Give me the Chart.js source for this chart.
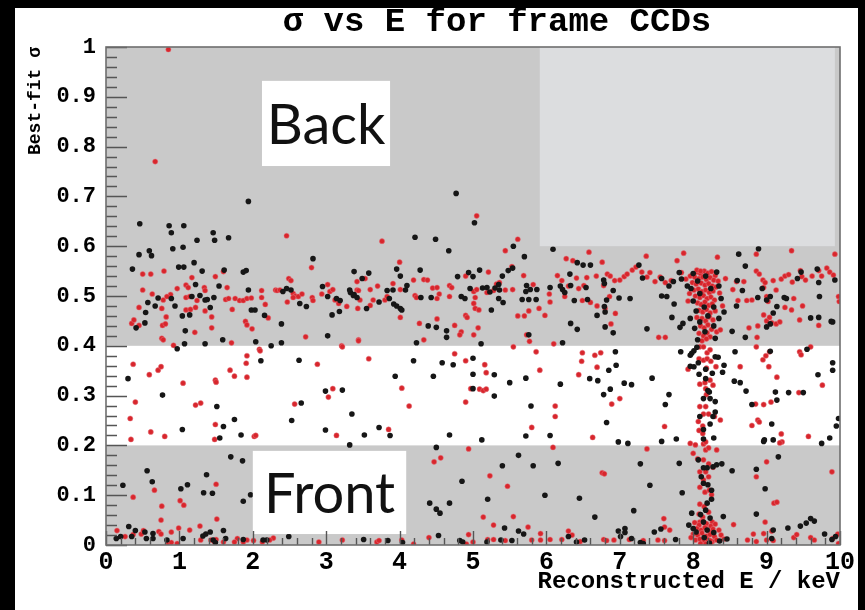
<!DOCTYPE html>
<html>
<head>
<meta charset="utf-8">
<script src="https://cdn.jsdelivr.net/npm/chart.js@4.4.1/dist/chart.umd.min.js"></script>
<style>
  html, body { margin: 0; padding: 0; background: #000; overflow: hidden; }
  #wrap { position: relative; width: 865px; height: 610px; }
</style>
</head>
<body>
<div id="wrap"><canvas id="c" width="865" height="610"></canvas></div>
<script>
// Texts
const chartTitle = 'σ vs E for frame CCDs';
const xTitle = 'Reconstructed E / keV';
const yTitle = 'Best-fit σ';
const xTickLabels = ['0','1','2','3','4','5','6','7','8','9','10'];
const yTickLabels = ['0','0.1','0.2','0.3','0.4','0.5','0.6','0.7','0.8','0.9','1'];

// Events: [reconstructed energy (keV), best-fit sigma]
// Black events, upper band (sigma >= 0.4)
const darkUpperLow = [
  [0.46,0.645],[0.86,0.641],[1.06,0.641],[0.89,0.627],[1.46,0.627],[1.48,0.612],[1.24,0.612],[1.67,0.617],
  [0.91,0.595],[1.05,0.598],[0.45,0.583],[0.59,0.591],[0.62,0.581],[1.20,0.567],[0.36,0.554],[0.99,0.558],
  [1.06,0.558],[1.31,0.550],[1.61,0.552],[1.87,0.548],[1.91,0.551],[1.94,0.690],[2.82,0.575],[3.38,0.549],
  [1.54,0.520],[1.22,0.523],[0.71,0.496],[0.57,0.487],[0.67,0.480],[0.54,0.467],[0.53,0.446],[0.41,0.436],
  [0.89,0.495],[0.94,0.480],[1.04,0.460],[1.14,0.462],[1.17,0.499],[1.28,0.501],[1.35,0.492],[1.38,0.493],
  [1.42,0.477],[1.47,0.497],[1.08,0.430],[1.07,0.404],[1.35,0.404],[1.59,0.412],[1.98,0.472],[1.94,0.512],
  [2.03,0.472],[2.16,0.461],[2.39,0.444],[2.04,0.408],[2.25,0.400],[2.39,0.406],[2.41,0.509],[2.46,0.515],
  [2.52,0.512],[2.64,0.485],[2.73,0.479],[2.95,0.519],[3.02,0.499],[3.14,0.495],[3.19,0.491],[3.08,0.462],
  [3.18,0.469],[3.33,0.507],[3.38,0.503],[3.42,0.497],[3.02,0.420]
];
const darkUpperMid = [
  [5.02,0.647],[4.21,0.618],[4.49,0.614],[4.67,0.591],[5.55,0.600],[5.70,0.579],[6.09,0.594],[6.42,0.567],
  [6.50,0.562],[6.60,0.562],[3.96,0.554],[4.28,0.552],[4.01,0.540],[3.49,0.535],[3.58,0.546],[3.32,0.512],
  [3.37,0.501],[3.55,0.475],[3.72,0.488],[3.83,0.511],[3.86,0.495],[3.91,0.512],[3.92,0.484],[3.96,0.480],
  [4.01,0.475],[4.03,0.472],[4.08,0.512],[4.10,0.521],[4.29,0.497],[4.43,0.497],[4.79,0.539],[4.84,0.499],
  [4.89,0.495],[4.94,0.547],[5.00,0.539],[5.09,0.552],[4.96,0.515],[4.39,0.440],[4.50,0.437],[4.64,0.430],
  [4.64,0.417],[4.23,0.406],[5.11,0.404],[5.13,0.516],[5.19,0.517],[5.23,0.508],[5.30,0.516],[5.35,0.523],
  [5.36,0.512],[5.25,0.472],[5.35,0.495],[5.41,0.487],[5.40,0.540],[5.48,0.551],[5.54,0.556],[5.72,0.509],
  [5.73,0.521],[5.78,0.513],[5.76,0.493],[5.67,0.493],[5.87,0.513],[5.86,0.493],[6.05,0.517],[6.19,0.520],
  [6.22,0.513],[6.25,0.507],[6.32,0.544],[6.33,0.521],[6.38,0.491],[6.56,0.493],[6.54,0.517],[6.69,0.461],
  [6.80,0.468],[6.82,0.492],[6.80,0.438],[6.42,0.433],[6.33,0.445],[6.78,0.532],[6.79,0.525],[5.76,0.422],
  [6.22,0.406],[4.77,0.706]
];
const darkUpperHigh = [
  [8.89,0.595],[8.62,0.584],[8.71,0.560],[6.91,0.511],[6.99,0.496],[7.14,0.495],[7.26,0.562],[7.31,0.536],
  [7.57,0.535],[7.67,0.520],[7.73,0.529],[7.81,0.547],[7.84,0.534],[7.57,0.500],[6.79,0.479],[6.91,0.426],
  [7.37,0.434],[7.71,0.457],[7.82,0.437],[7.86,0.445],[7.74,0.484],[7.64,0.499],[8.60,0.531],[8.67,0.511],
  [8.88,0.497],[8.94,0.515],[9.00,0.492],[9.05,0.499],[9.09,0.466],[9.14,0.479],[9.00,0.438],[9.05,0.444],
  [9.24,0.497],[9.27,0.495],[9.42,0.535],[9.47,0.548],[9.60,0.456],[9.69,0.554],[9.71,0.527],[9.93,0.532],
  [9.90,0.448],[9.72,0.499],[8.71,0.417],[8.53,0.429],[8.42,0.468],[8.59,0.480],[9.71,0.457],[9.88,0.449],
  [8.00,0.545],[8.06,0.530],[8.17,0.540],[8.32,0.548],[7.97,0.515],[8.09,0.505],[8.24,0.515],[8.35,0.520],
  [8.00,0.490],[8.15,0.478],[8.28,0.478],[8.04,0.470],[8.20,0.460],[8.35,0.455],[8.09,0.448],[8.28,0.440],
  [8.02,0.435],[8.16,0.428],[8.30,0.415],[8.06,0.412],[7.96,0.455],[8.38,0.495],[7.92,0.520]
];
// Black events, middle band (0.2 - 0.4)
const darkMiddle = [
  [0.97,0.394],[0.30,0.334],[0.77,0.301],[1.04,0.232],[1.51,0.278],[1.60,0.238],[1.55,0.215],[1.75,0.252],
  [1.84,0.221],[2.11,0.370],[2.63,0.371],[2.53,0.250],[2.66,0.285],[2.99,0.309],[3.22,0.311],[2.99,0.231],
  [3.35,0.263],[3.32,0.201],[4.19,0.370],[4.58,0.366],[4.73,0.362],[5.00,0.375],[5.29,0.342],[5.00,0.343],
  [3.94,0.339],[4.46,0.339],[5.00,0.314],[5.29,0.299],[5.50,0.326],[5.72,0.335],[6.19,0.323],[5.79,0.279],
  [3.72,0.236],[3.52,0.221],[3.87,0.220],[4.68,0.221],[5.12,0.211],[5.72,0.219],[6.05,0.220],[6.59,0.334],
  [6.70,0.330],[6.78,0.302],[6.85,0.351],[6.82,0.246],[6.94,0.388],[6.95,0.361],[7.06,0.325],[7.16,0.322],
  [6.87,0.313],[7.44,0.335],[7.67,0.302],[7.62,0.282],[6.98,0.207],[7.11,0.204],[7.57,0.208],[7.77,0.213],
  [7.83,0.388],[8.57,0.388],[8.56,0.329],[8.64,0.326],[8.72,0.309],[9.05,0.389],[9.12,0.307],[9.30,0.306],
  [9.50,0.306],[8.80,0.282],[9.14,0.291],[9.07,0.243],[8.97,0.211],[9.09,0.211],[9.75,0.204],[9.86,0.215],
  [9.95,0.239],[9.98,0.254],[9.55,0.393],[9.70,0.342],[9.90,0.351],[9.90,0.366],[8.96,0.208],
  [7.96,0.381],[7.98,0.385],[8.01,0.390],[8.05,0.397],[7.96,0.359],[8.01,0.358],[8.07,0.366],[8.08,0.343],
  [8.17,0.353],[8.26,0.345],[8.30,0.378],[8.34,0.377],[8.42,0.361],[8.40,0.347],[8.17,0.334],[8.20,0.310],
  [8.22,0.307],[8.23,0.294],[8.14,0.294],[8.30,0.288],[8.30,0.267],[8.27,0.258],[8.09,0.258],[8.14,0.232],
  [8.23,0.243],[8.14,0.213],[8.28,0.215]
];
// Black events, lower band (sigma < 0.2)
const darkLower = [
  [0.23,0.120],[0.56,0.149],[0.63,0.127],[1.02,0.113],[1.11,0.121],[1.33,0.105],[1.45,0.104],[1.37,0.141],
  [1.70,0.177],[1.86,0.169],[1.87,0.088],[1.97,0.101],[4.50,0.196],[4.41,0.084],[4.50,0.072],[4.55,0.064],
  [4.68,0.084],[4.85,0.128],[0.14,0.013],[0.20,0.017],[0.31,0.037],[0.35,0.017],[0.40,0.029],[0.53,0.026],
  [0.55,0.013],[0.64,0.023],[0.64,0.013],[0.83,0.010],[1.05,0.013],[1.32,0.018],[1.36,0.022],[1.42,0.026],
  [1.46,0.010],[1.49,0.005],[1.63,0.013],[1.87,0.011],[2.14,0.010],[2.19,0.010],[2.49,0.017],[3.51,0.011],
  [3.84,0.009],[4.04,0.005],[4.53,0.019],[4.82,0.009],[4.86,0.006],[1.60,0.029],[5.62,0.180],[5.40,0.159],
  [5.82,0.159],[6.16,0.164],[7.28,0.163],[7.81,0.164],[7.41,0.120],[7.85,0.105],[5.20,0.092],[5.98,0.100],
  [6.45,0.094],[6.66,0.056],[7.19,0.069],[5.43,0.034],[5.62,0.028],[5.69,0.022],[6.98,0.028],[7.07,0.033],
  [7.07,0.025],[7.47,0.026],[7.56,0.032],[5.19,0.006],[5.38,0.010],[5.53,0.009],[6.41,0.006],[6.52,0.010],
  [7.01,0.017],[7.16,0.013],[7.28,0.005],[7.32,0.003],[7.76,0.011],[6.30,0.017],[8.07,0.171],[8.14,0.155],
  [8.19,0.155],[8.27,0.157],[8.32,0.161],[8.39,0.163],[8.53,0.149],[8.11,0.137],[8.14,0.124],[8.20,0.121],
  [8.25,0.110],[8.25,0.092],[8.17,0.070],[8.19,0.084],[8.10,0.061],[8.23,0.054],[7.98,0.064],[8.14,0.046],
  [8.41,0.057],[8.19,0.030],[8.00,0.033],[8.86,0.152],[9.16,0.177],[8.98,0.113],[8.86,0.062],[9.07,0.013],
  [9.09,0.030],[9.29,0.034],[9.46,0.038],[9.54,0.044],[9.60,0.053],[9.65,0.048],[9.79,0.022],[9.89,0.011],
  [9.94,0.017],[8.04,0.026],[8.15,0.015],[8.28,0.025],[8.22,0.004],[8.36,0.008],[8.46,0.012],[7.94,0.040]
];

// Red events, upper band
const redUpperLow = [
  [0.85,0.995],[0.67,0.770],[2.46,0.621],[0.50,0.544],[0.61,0.544],[0.79,0.550],[0.50,0.512],[0.63,0.504],
  [0.88,0.503],[0.97,0.515],[1.09,0.522],[1.12,0.517],[1.17,0.537],[1.34,0.517],[1.35,0.511],[1.49,0.539],
  [1.60,0.549],[1.65,0.517],[0.35,0.445],[0.38,0.452],[0.45,0.441],[0.45,0.477],[0.78,0.492],[0.83,0.499],
  [0.76,0.475],[0.82,0.458],[0.77,0.441],[0.81,0.444],[1.09,0.472],[1.15,0.473],[1.22,0.477],[1.09,0.497],
  [1.14,0.499],[1.24,0.491],[1.35,0.470],[1.44,0.458],[1.44,0.436],[1.21,0.427],[0.76,0.415],[0.78,0.412],
  [0.92,0.401],[1.63,0.493],[1.67,0.495],[1.72,0.473],[1.71,0.406],[1.76,0.495],[1.82,0.491],[1.87,0.491],
  [1.92,0.495],[1.98,0.496],[2.12,0.511],[2.12,0.497],[1.90,0.449],[1.92,0.442],[1.99,0.434],[2.17,0.483],
  [2.21,0.456],[2.31,0.512],[2.33,0.511],[2.37,0.512],[2.49,0.535],[2.52,0.531],[2.55,0.505],[2.58,0.500],
  [2.62,0.499],[2.55,0.497],[2.67,0.504],[2.47,0.488],[2.81,0.497],[2.82,0.491],[2.80,0.557],[2.94,0.504],
  [3.02,0.523],[3.05,0.509],[3.09,0.513],[3.12,0.492],[3.17,0.485],[3.28,0.479],[3.42,0.529],[3.42,0.512],
  [3.43,0.475],[2.72,0.418],[3.21,0.400],[3.44,0.412]
];
const redUpperMid = [
  [5.05,0.661],[3.76,0.610],[5.61,0.614],[5.44,0.591],[6.58,0.588],[6.27,0.575],[6.36,0.571],[6.76,0.568],
  [4.00,0.568],[3.53,0.535],[3.44,0.511],[3.46,0.492],[3.60,0.513],[3.64,0.492],[3.70,0.520],[3.60,0.481],
  [3.80,0.492],[3.83,0.499],[3.91,0.525],[4.01,0.513],[4.01,0.457],[4.19,0.532],[4.21,0.501],[4.23,0.497],
  [4.33,0.533],[4.38,0.532],[4.45,0.516],[4.51,0.517],[4.54,0.504],[4.51,0.495],[4.68,0.521],[4.71,0.517],
  [4.68,0.499],[4.90,0.540],[5.01,0.509],[5.05,0.513],[5.03,0.497],[5.01,0.485],[5.03,0.475],[5.08,0.472],
  [4.90,0.461],[4.92,0.457],[4.51,0.454],[4.27,0.445],[4.75,0.441],[4.84,0.428],[4.82,0.422],[5.07,0.436],
  [5.01,0.422],[4.33,0.412],[3.44,0.410],[5.21,0.548],[5.32,0.524],[5.36,0.527],[5.19,0.507],[5.28,0.511],
  [5.53,0.559],[5.44,0.512],[5.54,0.513],[5.69,0.541],[5.76,0.470],[5.70,0.460],[5.61,0.460],[5.82,0.523],
  [5.90,0.475],[5.98,0.461],[6.04,0.504],[6.15,0.541],[6.05,0.488],[6.21,0.531],[6.30,0.520],[6.25,0.499],
  [6.44,0.515],[6.41,0.536],[6.51,0.521],[6.49,0.491],[6.60,0.487],[6.69,0.480],[6.55,0.537],[6.68,0.540],
  [6.78,0.521],[6.83,0.544],[5.77,0.409],[6.10,0.404],[5.73,0.422]
];
const redUpperHigh = [
  [9.34,0.591],[7.36,0.580],[7.78,0.571],[7.87,0.586],[8.33,0.578],[8.86,0.584],[9.93,0.584],[6.87,0.540],
  [6.93,0.531],[7.00,0.532],[7.06,0.539],[7.10,0.544],[7.17,0.552],[7.22,0.558],[7.30,0.548],[7.37,0.538],
  [7.41,0.547],[7.48,0.529],[7.55,0.538],[7.62,0.527],[7.70,0.531],[7.84,0.547],[7.90,0.534],[7.96,0.540],
  [6.86,0.499],[6.94,0.465],[6.80,0.475],[6.88,0.444],[7.53,0.417],[7.62,0.417],[8.44,0.535],[8.54,0.513],
  [8.59,0.529],[8.69,0.529],[8.61,0.491],[8.73,0.491],[8.80,0.492],[8.86,0.550],[8.90,0.544],[8.95,0.532],
  [8.96,0.517],[8.98,0.527],[9.00,0.499],[9.02,0.489],[9.09,0.531],[9.13,0.512],[9.20,0.534],[9.25,0.540],
  [9.30,0.543],[9.35,0.528],[9.37,0.495],[9.46,0.551],[9.48,0.539],[9.53,0.532],[9.62,0.540],[9.71,0.551],
  [9.75,0.540],[9.82,0.556],[9.86,0.548],[9.91,0.542],[9.98,0.499],[9.99,0.489],[8.76,0.436],[8.88,0.440],
  [8.96,0.462],[9.00,0.450],[9.04,0.457],[9.07,0.446],[9.13,0.444],[9.18,0.448],[9.25,0.477],[9.34,0.472],
  [9.45,0.452],[9.49,0.480],[9.71,0.441],[8.87,0.417]
];
// Red events in the 8.2 keV peak, upper band
const redPeakUpper = [
  [8.05,0.548],[8.10,0.545],[8.15,0.550],[8.20,0.546],[8.25,0.549],[8.30,0.541],[8.02,0.538],[8.08,0.535],
  [8.13,0.538],[8.18,0.533],[8.23,0.537],[8.28,0.532],[8.34,0.530],[7.99,0.527],[8.04,0.524],[8.11,0.526],
  [8.16,0.522],[8.21,0.525],[8.26,0.520],[8.31,0.518],[8.01,0.512],[8.07,0.514],[8.12,0.509],[8.17,0.512],
  [8.22,0.507],[8.27,0.510],[8.36,0.506],[8.03,0.500],[8.09,0.497],[8.14,0.501],[8.19,0.495],[8.24,0.498],
  [8.29,0.492],[8.06,0.486],[8.11,0.483],[8.16,0.488],[8.21,0.481],[8.26,0.484],[8.08,0.471],[8.13,0.468],
  [8.18,0.473],[8.23,0.466],[8.30,0.470],[8.05,0.457],[8.12,0.455],[8.17,0.450],[8.22,0.458],[8.27,0.452],
  [8.10,0.440],[8.15,0.436],[8.20,0.442],[8.25,0.433],[8.08,0.425],[8.14,0.420],[8.19,0.426],[8.23,0.418],
  [8.32,0.428],[8.12,0.410],[8.18,0.414],[8.37,0.432],[7.95,0.505],[7.93,0.490],[8.40,0.480],[8.05,0.552],
  [8.10,0.550]
];
// Red events, middle band
const redMiddle = [
  [2.09,0.393],[5.55,0.398],[0.37,0.363],[0.59,0.342],[0.71,0.351],[0.75,0.358],[1.05,0.325],[0.40,0.287],
  [0.33,0.254],[0.34,0.212],[0.61,0.227],[0.80,0.218],[1.22,0.281],[1.29,0.285],[1.49,0.331],[1.50,0.327],
  [1.49,0.242],[1.48,0.212],[1.69,0.351],[1.75,0.339],[1.92,0.380],[1.91,0.365],[1.92,0.337],[2.02,0.218],
  [2.04,0.220],[2.10,0.390],[2.88,0.363],[2.57,0.283],[3.09,0.314],[3.03,0.297],[3.14,0.220],[3.22,0.398],
  [3.58,0.374],[4.90,0.370],[4.75,0.384],[5.16,0.362],[5.18,0.346],[4.03,0.315],[4.97,0.314],[5.09,0.313],
  [5.14,0.310],[5.18,0.313],[5.86,0.388],[5.91,0.351],[4.90,0.287],[4.13,0.279],[3.85,0.232],[6.12,0.279],
  [6.12,0.258],[5.80,0.236],[6.63,0.216],[6.49,0.386],[6.48,0.369],[6.66,0.381],[6.74,0.386],[6.69,0.357],
  [6.44,0.342],[6.89,0.283],[7.00,0.294],[7.61,0.238],[8.64,0.358],[8.86,0.398],[8.95,0.372],[8.99,0.380],
  [9.04,0.388],[9.03,0.358],[9.14,0.337],[9.44,0.306],[8.85,0.283],[8.96,0.282],[9.06,0.287],[8.80,0.240],
  [8.88,0.251],[8.90,0.247],[9.20,0.223],[9.21,0.207],[9.57,0.218],[9.45,0.388],[9.47,0.382],[9.60,0.398],
  [9.76,0.321],[9.18,0.205],[7.96,0.204],[8.03,0.201],[8.14,0.203],
  [8.09,0.398],[8.14,0.398],[8.19,0.386],[8.23,0.392],[8.08,0.374],[8.14,0.371],[8.19,0.374],[8.24,0.369],
  [8.31,0.358],[7.93,0.353],[8.18,0.355],[8.09,0.323],[8.16,0.326],[8.23,0.331],[8.27,0.321],[8.17,0.314],
  [8.18,0.302],[8.09,0.278],[8.17,0.278],[8.14,0.263],[8.21,0.263],[8.29,0.258],[8.37,0.251],[8.07,0.248],
  [8.13,0.239],[8.08,0.230],[8.13,0.224],[8.17,0.207]
];
// Red events, lower band
const redLower = [
  [4.94,0.193],[6.09,0.196],[7.37,0.193],[0.37,0.096],[0.66,0.110],[0.76,0.078],[0.75,0.050],[1.01,0.089],
  [1.06,0.080],[1.50,0.122],[1.51,0.052],[1.28,0.038],[4.47,0.167],[4.56,0.175],[0.15,0.029],[0.26,0.017],
  [0.37,0.021],[0.48,0.022],[0.51,0.029],[0.72,0.027],[0.75,0.022],[0.89,0.026],[0.99,0.034],[1.14,0.030],
  [1.50,0.011],[1.79,0.013],[1.92,0.010],[2.28,0.014],[2.90,0.006],[3.22,0.010],[3.69,0.006],[4.03,0.010],
  [4.19,0.002],[4.40,0.015],[4.94,0.021],[5.00,0.006],[0.85,0.002],[0.89,0.005],[0.97,0.003],[1.29,0.010],
  [1.43,0.010],[1.48,0.006],[1.60,0.006],[1.75,0.006],[1.87,0.006],[2.01,0.009],[2.13,0.006],[2.23,0.010],
  [3.72,0.009],[4.91,0.002],[5.23,0.139],[5.47,0.118],[6.76,0.145],[6.79,0.143],[5.14,0.056],[5.55,0.057],
  [5.28,0.040],[5.75,0.036],[5.92,0.023],[6.30,0.028],[6.35,0.020],[7.60,0.053],[7.61,0.036],[7.68,0.030],
  [6.05,0.011],[6.21,0.011],[6.46,0.007],[6.78,0.011],[6.82,0.009],[6.92,0.010],[7.13,0.011],[7.32,0.009],
  [7.52,0.010],[7.61,0.009],[5.20,0.011],[5.28,0.011],[5.44,0.009],[5.80,0.010],[5.92,0.010],
  [9.00,0.167],[8.86,0.137],[9.10,0.084],[9.14,0.086],[9.89,0.147],[8.55,0.041],[8.82,0.022],[8.96,0.023],
  [8.98,0.046],[9.07,0.028],[9.00,0.010],[9.09,0.009],[9.37,0.015],[9.41,0.021],[9.60,0.015],[9.65,0.010],
  [9.90,0.013],[9.97,0.022],[9.98,0.003],[8.74,0.010],[8.86,0.007]
];
// Red events in the 8.2 keV peak, lower band
const redPeakLower = [
  [8.17,0.191],[8.21,0.195],[8.32,0.191],[8.00,0.184],[8.06,0.173],[8.14,0.171],[8.21,0.163],[8.27,0.156],
  [8.09,0.147],[8.17,0.147],[8.21,0.137],[8.14,0.131],[8.09,0.116],[8.16,0.106],[8.22,0.110],[8.25,0.101],
  [8.09,0.082],[8.15,0.077],[8.08,0.062],[8.13,0.056],[8.21,0.066],[8.26,0.046],[8.09,0.046],[8.17,0.040],
  [8.02,0.045],[8.08,0.040],[8.13,0.048],[8.18,0.043],[8.24,0.038],[8.30,0.042],[8.05,0.033],[8.11,0.030],
  [8.16,0.035],[8.21,0.028],[8.27,0.032],[8.35,0.030],[8.00,0.022],[8.06,0.020],[8.12,0.024],[8.18,0.018],
  [8.23,0.021],[8.29,0.017],[8.38,0.020],[8.03,0.010],[8.09,0.012],[8.15,0.008],[8.20,0.011],[8.26,0.007],
  [8.32,0.010],[8.42,0.012],[8.10,0.003],[8.17,0.002],[8.24,0.004],[7.97,0.015],[8.23,0.009]
];

const darkEvents = [...darkUpperLow, ...darkUpperMid, ...darkUpperHigh, ...darkMiddle, ...darkLower];
const redEvents = [...redUpperLow, ...redUpperMid, ...redUpperHigh, ...redPeakUpper, ...redMiddle, ...redLower, ...redPeakLower];
const toXY = (arr) => arr.map(([e, s]) => ({ x: e, y: s }));

// Shaded sigma bands and annotation boxes (data coordinates)
const bands = [
  { from: 0.0, to: 0.2, color: '#c9c9c9' },
  { from: 0.4, to: 1.0, color: '#c9c9c9' }
];
const blankRegion = { e0: 5.91, e1: 9.93, s0: 0.600, s1: 1.0, color: '#dcdddf' };
const labelBoxes = [
  { text: 'Back',  e0: 2.125, e1: 3.87, s0: 0.761, s1: 0.932 },
  { text: 'Front', e0: 2.00,  e1: 4.09, s0: 0.022, s1: 0.189 }
];

const MONO = '"Liberation Mono", "DejaVu Sans Mono", monospace';

const decor = {
  id: 'decor',
  beforeDraw(chart) {
    const ctx = chart.ctx;
    const { left, right, top, bottom } = chart.chartArea;
    const ys = chart.scales.y;
    ctx.save();
    ctx.fillStyle = '#000';
    ctx.fillRect(0, 0, chart.width, chart.height);
    ctx.fillStyle = '#fff';
    ctx.fillRect(15, 8, 843, 602);
    ctx.fillStyle = '#fff';
    ctx.fillRect(left, top, right - left, bottom - top);
    bands.forEach(b => {
      const y0 = ys.getPixelForValue(b.to), y1 = ys.getPixelForValue(b.from);
      ctx.fillStyle = b.color;
      ctx.fillRect(left, y0, right - left, y1 - y0);
    });
    // title
    ctx.fillStyle = '#000';
    ctx.font = 'bold 34px ' + MONO;
    ctx.textAlign = 'center';
    ctx.textBaseline = 'alphabetic';
    ctx.fillText(chartTitle, 497, 31);
    ctx.restore();
  },
  afterDatasetsDraw(chart) {
    const ctx = chart.ctx;
    const { left, right, top, bottom } = chart.chartArea;
    const xs = chart.scales.x, ys = chart.scales.y;
    ctx.save();
    // empty region at high sigma / high energy
    {
      const x0 = xs.getPixelForValue(blankRegion.e0), x1 = xs.getPixelForValue(blankRegion.e1);
      const y0 = ys.getPixelForValue(blankRegion.s1), y1 = ys.getPixelForValue(blankRegion.s0);
      ctx.fillStyle = blankRegion.color;
      ctx.fillRect(x0, y0, x1 - x0, y1 - y0);
    }
    // Back / Front labels
    labelBoxes.forEach(b => {
      const x0 = xs.getPixelForValue(b.e0), x1 = xs.getPixelForValue(b.e1);
      const y0 = ys.getPixelForValue(b.s1), y1 = ys.getPixelForValue(b.s0);
      ctx.fillStyle = '#fff';
      ctx.fillRect(x0, y0, x1 - x0, y1 - y0);
      ctx.fillStyle = '#111';
      ctx.font = '56px Lato, "Open Sans", sans-serif';
      ctx.textAlign = 'center';
      ctx.textBaseline = 'middle';
      ctx.fillText(b.text, (x0 + x1) / 2, (y0 + y1) / 2 + 2);
    });
    // tick marks drawn inside the frame
    ctx.strokeStyle = '#555';
    ctx.lineWidth = 1.4;
    ctx.beginPath();
    for (let i = 0; i <= 50; i++) {
      const py = Math.round(ys.getPixelForValue(i * 0.02)) + 0.5;
      const len = i % 5 === 0 ? 21 : 11;
      ctx.moveTo(left, py); ctx.lineTo(left + len, py);
    }
    for (let i = 0; i <= 50; i++) {
      const px = Math.round(xs.getPixelForValue(i * 0.2)) + 0.5;
      const len = i % 5 === 0 ? 14 : 7;
      ctx.moveTo(px, bottom); ctx.lineTo(px, bottom - len);
    }
    ctx.stroke();
    // frame
    ctx.strokeStyle = '#6e6e6e';
    ctx.lineWidth = 1.6;
    ctx.strokeRect(left, top, right - left, bottom - top);
    ctx.restore();
  }
};

new Chart(document.getElementById('c'), {
  type: 'scatter',
  data: {
    datasets: [
      { label: 'dark', data: toXY(darkEvents), backgroundColor: '#161616', borderWidth: 0, pointRadius: 2.8, pointHoverRadius: 2.8 },
      { label: 'red', data: toXY(redEvents), backgroundColor: '#d8262c', borderColor: 'rgba(230,120,130,0.6)', borderWidth: 0.8, pointRadius: 2.6, pointHoverRadius: 2.6 }
    ]
  },
  options: {
    responsive: false,
    animation: false,
    devicePixelRatio: 1,
    events: [],
    layout: { padding: { left: 15, right: 25, top: 47, bottom: 0 } },
    plugins: { legend: { display: false }, tooltip: { enabled: false }, title: { display: false } },
    scales: {
      x: {
        type: 'linear', min: 0, max: 10,
        afterFit(s) { s.height = 65; },
        grid: { display: false, drawTicks: false }, border: { display: false },
        ticks: {
          stepSize: 1, autoSkip: false, maxRotation: 0, padding: 3, color: '#000',
          font: { family: MONO, weight: 'bold', size: 25 },
          callback: (v) => xTickLabels[Math.round(v)]
        },
        title: {
          display: true, text: xTitle, align: 'end', color: '#000',
          font: { family: MONO, weight: 'bold', size: 24 }, padding: { top: 0, bottom: 14 }
        }
      },
      y: {
        type: 'linear', min: 0, max: 1,
        afterFit(s) { s.width = 91; },
        grid: { display: false, drawTicks: false }, border: { display: false },
        ticks: {
          stepSize: 0.1, autoSkip: false, padding: 10, color: '#000',
          font: { family: MONO, weight: 'bold', size: 22 },
          callback: (v) => yTickLabels[Math.round(v * 10)]
        },
        title: {
          display: true, text: yTitle, align: 'end', color: '#000',
          font: { family: MONO, weight: 'bold', size: 18 }, padding: { top: 10, bottom: 0 }
        }
      }
    }
  },
  plugins: [decor]
});
</script>
</body>
</html>
